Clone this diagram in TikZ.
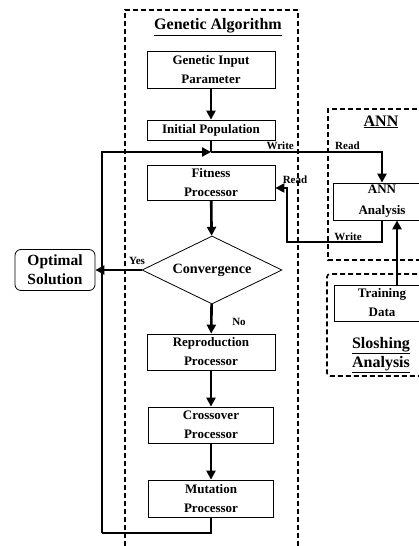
\documentclass[tikz,border=0pt]{standalone}
\usepackage{fontspec}
\setmainfont{Liberation Serif}
\usetikzlibrary{arrows.meta,shapes.geometric,calc}

\tikzset{
  procbox/.style={draw, line width=0.8pt, minimum width=128pt, minimum height=36pt,
    align=center, inner sep=0pt, font=\bfseries\fontsize{13}{19}\selectfont},
  flow/.style={line width=2.6pt, -{Triangle[length=9pt,width=9pt]}},
  link/.style={line width=2.2pt},
  region/.style={dash pattern=on 5pt off 3pt, line width=1.6pt},
  title/.style={font=\bfseries\fontsize{16}{19}\selectfont, align=center},
  tag/.style={font=\bfseries\fontsize{11}{13}\selectfont, inner sep=1pt},
}

\begin{document}
\begin{tikzpicture}[x=1pt, y=-1pt]
    \useasboundingbox (0,0) rectangle (419,546);

    % Dashed regions
    \draw[region] (125,546) -- (125,10) -- (298,10) -- (298,546);
    \draw[region] (425,109) -- (328,109) -- (328,260) -- (425,260);
    \draw[region, rounded corners=3pt] (425,274) -- (327,274) -- (327,376) -- (425,376);

    % Titles
    \node[title] (gatitle) at (218,27) {\underline{Genetic Algorithm}};
    \node[title] (anntitle) at (381,122) {\underline{ANN}};
    \node[title] (slosh) at (381,355) {\underline{Sloshing}\\\underline{Analysis}};

    % GA process column
    \node[procbox, minimum height=37pt] (gip) at (211,69.5) {Genetic Input\\Parameter};
    \node[procbox, minimum height=20pt] (ip) at (211,130) {Initial Population};
    \node[procbox, minimum height=35pt] (fp) at (211,182.5) {Fitness\\Processor};
    \node[draw, diamond, line width=0.8pt, minimum width=140pt, minimum height=68pt,
      inner sep=0pt, aspect=2, font=\bfseries\fontsize{14.2}{17}\selectfont] (conv) at (212,270) {Convergence};
    \node[procbox] (rp) at (211,352) {Reproduction\\Processor};
    \node[procbox, minimum width=125pt] (cp) at (211,425) {Crossover\\Processor};
    \node[procbox, minimum width=125pt, minimum height=37pt] (mp) at (211,498.5) {Mutation\\Processor};

    % Result
    \node[draw, rounded corners=6pt, line width=0.8pt, minimum width=80pt, minimum height=41pt,
      align=center, inner sep=0pt, font=\bfseries\fontsize{15.5}{19}\selectfont] (opt) at (55,270) {Optimal\\Solution};

    % ANN side
    \node[procbox, minimum width=98pt, minimum height=37pt, font=\bfseries\fontsize{13}{21}\selectfont] (ann) at (382,201.5) {ANN\\Analysis};
    \node[procbox, minimum width=96pt] (train) at (382,303) {Training\\Data};

    % Helper points
    \coordinate (join) at (211,152);
    \coordinate (loop) at (102,533);
    \coordinate (wcorner) at (287,242);
    \coordinate (rd) at (287,188);

    % Main flow
    \draw[flow] (gip) -- (ip);
    \draw[link] (ip) -- (join);
    \draw[flow] (fp) -- (conv);
    \draw[flow] (conv) -- (rp);
    \draw[flow] (rp) -- (cp);
    \draw[flow] (cp) -- (mp);
    \draw[flow] (conv.west) -- (opt.east);

    % Feedback loop
    \draw[link] (mp.south) |- (loop);
    \draw[flow] (loop) |- (join);

    % Read / write with ANN
    \draw[flow] (join) -| (ann.north);
    \draw[flow] (ann.south) |- (wcorner) -- (rd) -- (fp.east |- rd);
    \draw[flow] ($(train.north)+(15,0)$) -- ($(ann.south)+(15,0)$);

    % Labels
    \node[tag, anchor=east] (lwrite1) at (295,146) {Write};
    \node[tag, anchor=west] (lread1) at (334,146) {Read};
    \node[tag] (lread2) at (295,180) {Read};
    \node[tag] (lwrite2) at (348,237) {Write};
    \node[tag] (lyes) at (137,261) {Yes};
    \node[tag] (lno) at (239,322) {No};
\end{tikzpicture}
\end{document}
